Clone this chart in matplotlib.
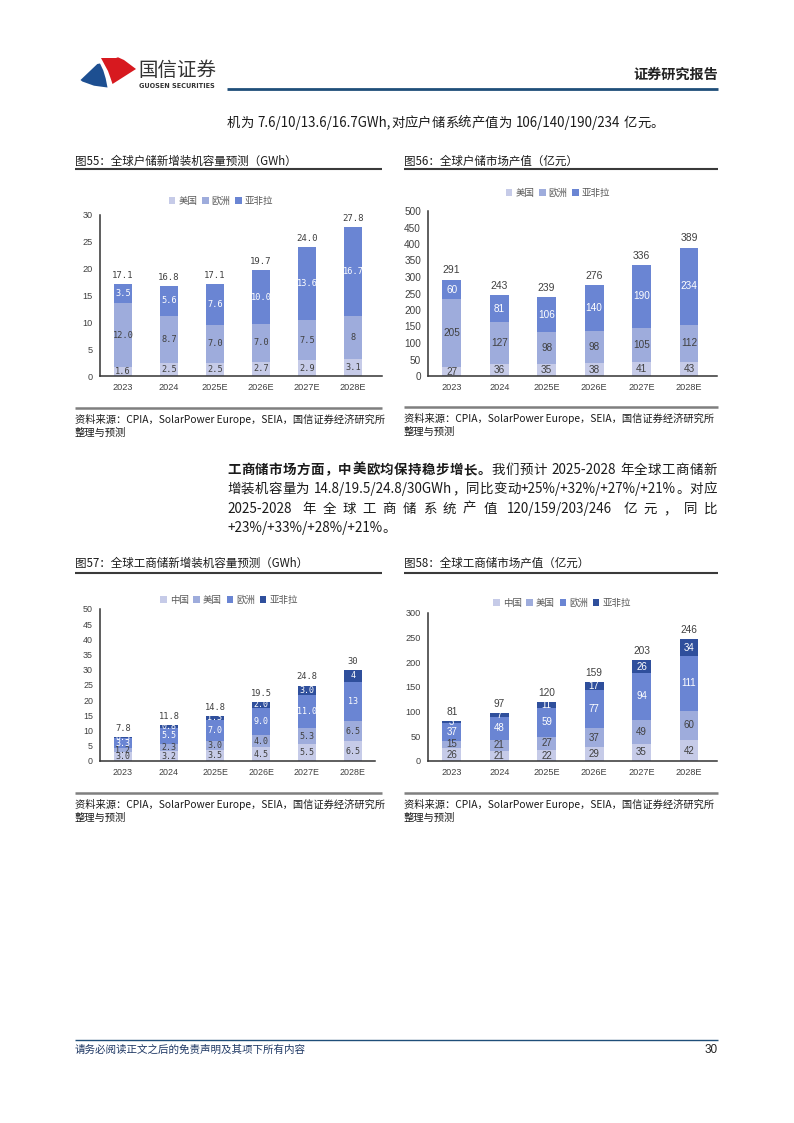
import matplotlib
matplotlib.use("Agg")
import matplotlib.pyplot as plt
from matplotlib.patches import Polygon
import numpy as np

plt.rcParams['font.family'] = ['Noto Sans CJK SC', 'DejaVu Sans']

W, H = 794, 1123
fig = plt.figure(figsize=(W / 100, H / 100), dpi=100)
fig.patch.set_facecolor('white')

# ---------------- data ----------------
years = ['2023', '2024', '2025E', '2026E', '2027E', '2028E']

# Fig 55: residential storage new installs (GWh)
res_cap_us = [1.6, 2.5, 2.5, 2.7, 2.9, 3.1]
res_cap_eu = [12.0, 8.7, 7.0, 7.0, 7.5, 8]
res_cap_aal = [3.5, 5.6, 7.6, 10.0, 13.6, 16.7]
res_cap_total = [17.1, 16.8, 17.1, 19.7, 24.0, 27.8]
res_cap_us_lbl = ['1.6', '2.5', '2.5', '2.7', '2.9', '3.1']
res_cap_eu_lbl = ['12.0', '8.7', '7.0', '7.0', '7.5', '8']
res_cap_aal_lbl = ['3.5', '5.6', '7.6', '10.0', '13.6', '16.7']
res_cap_total_lbl = ['17.1', '16.8', '17.1', '19.7', '24.0', '27.8']

# Fig 56: residential storage market value (100m CNY)
res_val_us = [27, 36, 35, 38, 41, 43]
res_val_eu = [205, 127, 98, 98, 105, 112]
res_val_aal = [60, 81, 106, 140, 190, 234]
res_val_total = [291, 243, 239, 276, 336, 389]

# Fig 57: C&I storage new installs (GWh)
ci_cap_cn = [3.0, 3.2, 3.5, 4.5, 5.5, 6.5]
ci_cap_us = [1.2, 2.3, 3.0, 4.0, 5.3, 6.5]
ci_cap_eu = [3.3, 5.5, 7.0, 9.0, 11.0, 13]
ci_cap_aal = [0.3, 0.8, 1.3, 2.0, 3.0, 4]
ci_cap_total = [7.8, 11.8, 14.8, 19.5, 24.8, 30]
ci_cap_cn_lbl = ['3.0', '3.2', '3.5', '4.5', '5.5', '6.5']
ci_cap_us_lbl = ['1.2', '2.3', '3.0', '4.0', '5.3', '6.5']
ci_cap_eu_lbl = ['3.3', '5.5', '7.0', '9.0', '11.0', '13']
ci_cap_aal_lbl = ['0.3', '0.8', '1.3', '2.0', '3.0', '4']
ci_cap_total_lbl = ['7.8', '11.8', '14.8', '19.5', '24.8', '30']

# Fig 58: C&I storage market value (100m CNY)
ci_val_cn = [26, 21, 22, 29, 35, 42]
ci_val_us = [15, 21, 27, 37, 49, 60]
ci_val_eu = [37, 48, 59, 77, 94, 111]
ci_val_aal = [3, 7, 11, 17, 26, 34]
ci_val_total = [81, 97, 120, 159, 203, 246]

C1, C2, C3, C4 = '#c6cbe8', '#9eacdc', '#6a85d3', '#2f4f9c'
DARK = '#404040'

# ---------------- helpers ----------------
def fx(x):
    return x / W

def fy(y):
    return 1 - y / H

# overlay axes in pixel coordinates for rules and logo
ov = fig.add_axes([0, 0, 1, 1], zorder=-1)
ov.set_xlim(0, W)
ov.set_ylim(H, 0)
ov.axis('off')

def hline(x0, x1, y, color, lw):
    ov.plot([x0, x1], [y, y], color=color, lw=lw, solid_capstyle='butt')

# ---- header ----
red = [(101, 58), (116, 58), (118, 57.3), (124, 60), (136, 69), (112.5, 84),
       (110.5, 78), (108, 71), (105, 65.5)]
blue = [(80.5, 80), (97.3, 64), (100, 63.5), (103.3, 70.5), (105.7, 78.5),
        (107.5, 87.5), (94, 85.7), (82.3, 81.5)]
ov.add_patch(Polygon(blue, closed=True, fc='#1d4f91', ec='none'))
ov.add_patch(Polygon(red, closed=True, fc='#d7191f', ec='none'))
fig.text(fx(138), fy(70), '国信证券', fontsize=14, color='#333333',
         va='center', ha='left', fontweight='medium')
fig.text(fx(139), fy(86), 'GUOSEN SECURITIES', fontsize=4.7, color='#333333',
         va='center', ha='left', fontweight='bold', family=['DejaVu Sans'])
fig.text(fx(718), fy(75), '证券研究报告', fontsize=10.2, color='#222222',
         va='center', ha='right', fontweight='bold')
hline(227, 718, 89, '#1f4e79', 2.0)

# ---- text layout with justification ----
renderer = fig.canvas.get_renderer()

def is_cjk(ch):
    return ord(ch) > 0x2E80

def atoms_of(runs):
    atoms = []
    for text, bold in runs:
        cur = ''
        space = False
        for ch in text:
            if ch == ' ':
                if cur:
                    atoms.append([cur, bold, space]); cur = ''
                    space = False
                space = True
            elif is_cjk(ch):
                if cur:
                    atoms.append([cur, bold, space]); cur = ''
                    space = False
                atoms.append([ch, bold, space])
                space = False
            else:
                cur += ch
        if cur:
            atoms.append([cur, bold, space])
    return atoms

def layout_line(runs, x0, x1, y, size, justify=True):
    atoms = atoms_of(runs)
    objs = []
    widths = []
    for a, bold, sp in atoms:
        t = fig.text(0, fy(y), a, fontsize=size, color='#1a1a1a', va='center',
                     ha='left', fontweight='bold' if bold else 'normal')
        objs.append(t)
        widths.append(t.get_window_extent(renderer).width)
    sp_w = size * 100 / 72 * 0.3
    nat = sum(widths) + sum(sp_w for a in atoms if a[2])
    if justify and len(atoms) > 1:
        extra = (x1 - x0 - nat) / (len(atoms) - 1)
    else:
        extra = 0
    x = x0
    for t, w, a in zip(objs, widths, atoms):
        if a[2]:
            x += sp_w
        t.set_x(fx(x))
        x += w + extra

layout_line([('机为 7.6/10/13.6/16.7GWh,对应户储系统产值为 106/140/190/234 亿元。', False)],
            227, 718, 123, 9.6, justify=False)

para_size = 9.7
layout_line([('工商储市场方面，中美欧均保持稳步增长。', True),
             ('我们预计 2025-2028 年全球工商储新', False)], 227, 717, 470, para_size)
layout_line([('增装机容量为 14.8/19.5/24.8/30GWh，同比变动+25%/+32%/+27%/+21%。对应', False)],
            227, 717, 489, para_size)
layout_line([('2025-2028 年全球工商储系统产值 120/159/203/246 亿元，同比', False)],
            227, 717, 509, para_size)
layout_line([('+23%/+33%/+28%/+21%。', False)], 227, 717, 528, para_size, justify=False)

# ---- chart frames: titles, rules, sources ----
def frame(x0, x1, ty, uy, sy, title):
    fig.text(fx(x0), fy(ty), title, fontsize=8.3, color='#1a1a1a', va='center', ha='left')
    hline(x0, x1, uy, '#3a3a3a', 1.5)
    hline(x0, x1, sy, '#7f7f7f', 1.8)
    fig.text(fx(x0), fy(sy + 11), '资料来源：CPIA，SolarPower Europe，SEIA，国信证券经济研究所',
             fontsize=7.4, color='#1a1a1a', va='center', ha='left')
    fig.text(fx(x0), fy(sy + 25), '整理与预测', fontsize=7.4, color='#1a1a1a',
             va='center', ha='left')

frame(75, 382, 161, 169, 408, '图55：全球户储新增装机容量预测（GWh）')
frame(404, 718, 161, 169, 407, '图56：全球户储市场产值（亿元）')
frame(75, 382, 563, 573, 793, '图57：全球工商储新增装机容量预测（GWh）')
frame(404, 718, 563, 573, 793, '图58：全球工商储市场产值（亿元）')

# ---- stacked bar charts ----
def chart(l, r, top, bot, series, names, colors, lcolors, labels, totals,
          ylim, yticks, xlim, width, mono, legend_xy, lab_size, ysize, xsize):
    ax = fig.add_axes([fx(l), fy(bot), fx(r - l), (bot - top) / H])
    x = np.arange(len(years))
    bottom = np.zeros(len(years))
    fam = ['DejaVu Sans Mono'] if mono else ['Liberation Sans']
    cont = None
    for vals, nm, c, lc, lb in zip(series, names, colors, lcolors, labels):
        cont = ax.bar(x, vals, width, bottom=bottom, color=c, label=nm, zorder=2)
        ax.bar_label(cont, labels=lb, label_type='center', color=lc,
                     fontfamily=fam, fontsize=lab_size)
        bottom = bottom + np.array(vals, dtype=float)
    ax.bar_label(cont, labels=totals, label_type='edge', padding=3, color=DARK,
                 fontfamily=fam, fontsize=lab_size + 0.3)
    ax.set_ylim(*ylim)
    ax.set_xlim(*xlim)
    ax.set_yticks(yticks)
    ax.set_xticks(x)
    ax.set_xticklabels(years)
    ax.tick_params(length=0, colors='#404040', pad=5)
    ax.tick_params(axis='y', labelsize=ysize)
    ax.tick_params(axis='x', labelsize=xsize)
    for lab in ax.get_xticklabels() + ax.get_yticklabels():
        lab.set_fontfamily(['Liberation Sans'])
    for s in ['top', 'right']:
        ax.spines[s].set_visible(False)
    for s in ['left', 'bottom']:
        ax.spines[s].set_color('#333333')
        ax.spines[s].set_linewidth(1.1)
    ax.set_facecolor('none')
    ax.legend(loc='center', bbox_to_anchor=(fx(legend_xy[0]), fy(legend_xy[1])),
              bbox_transform=fig.transFigure, ncol=len(series), frameon=False,
              fontsize=6.8, handlelength=0.7, handleheight=0.7, handletextpad=0.3,
              columnspacing=0.5, labelcolor='#595959', borderpad=0)
    return ax

chart(100, 382, 215, 376,
      [res_cap_us, res_cap_eu, res_cap_aal], ['美国', '欧洲', '亚非拉'],
      [C1, C2, C3], [DARK, DARK, 'white'],
      [res_cap_us_lbl, res_cap_eu_lbl, res_cap_aal_lbl], res_cap_total_lbl,
      (0, 30), [0, 5, 10, 15, 20, 25, 30], (-0.5, 5.63), 0.39, True, (221, 201),
      6.2, 6.6, 6.6)

chart(428, 717, 211, 376,
      [res_val_us, res_val_eu, res_val_aal], ['美国', '欧洲', '亚非拉'],
      [C1, C2, C3], [DARK, DARK, 'white'],
      [[str(v) for v in res_val_us], [str(v) for v in res_val_eu],
       [str(v) for v in res_val_aal]], [str(v) for v in res_val_total],
      (0, 500), list(range(0, 501, 50)), (-0.5, 5.59), 0.4, False, (558, 193),
      7.2, 7.2, 6.6)

chart(100, 375, 609, 761,
      [ci_cap_cn, ci_cap_us, ci_cap_eu, ci_cap_aal], ['中国', '美国', '欧洲', '亚非拉'],
      [C1, C2, C3, C4], [DARK, DARK, 'white', 'white'],
      [ci_cap_cn_lbl, ci_cap_us_lbl, ci_cap_eu_lbl, ci_cap_aal_lbl], ci_cap_total_lbl,
      (0, 50), list(range(0, 51, 5)), (-0.5, 5.48), 0.39, True, (229, 600),
      6.0, 6.4, 6.4)

chart(428, 717, 613, 761,
      [ci_val_cn, ci_val_us, ci_val_eu, ci_val_aal], ['中国', '美国', '欧洲', '亚非拉'],
      [C1, C2, C3, C4], [DARK, DARK, 'white', 'white'],
      [[str(v) for v in ci_val_cn], [str(v) for v in ci_val_us],
       [str(v) for v in ci_val_eu], [str(v) for v in ci_val_aal]],
      [str(v) for v in ci_val_total],
      (0, 300), list(range(0, 301, 50)), (-0.5, 5.59), 0.4, False, (562, 603),
      7.0, 6.6, 6.6)

# ---- footer ----
hline(75, 718, 1040, '#1f4e79', 1.0)
fig.text(fx(75), fy(1050), '请务必阅读正文之后的免责声明及其项下所有内容', fontsize=7.6,
         color='#1f3864', va='center', ha='left', style='italic')
fig.text(fx(718), fy(1050), '30', fontsize=8.5, color='#222222', va='center', ha='right',
         family=['Liberation Sans'])

fig.savefig('out.png', dpi=100, facecolor='white')
